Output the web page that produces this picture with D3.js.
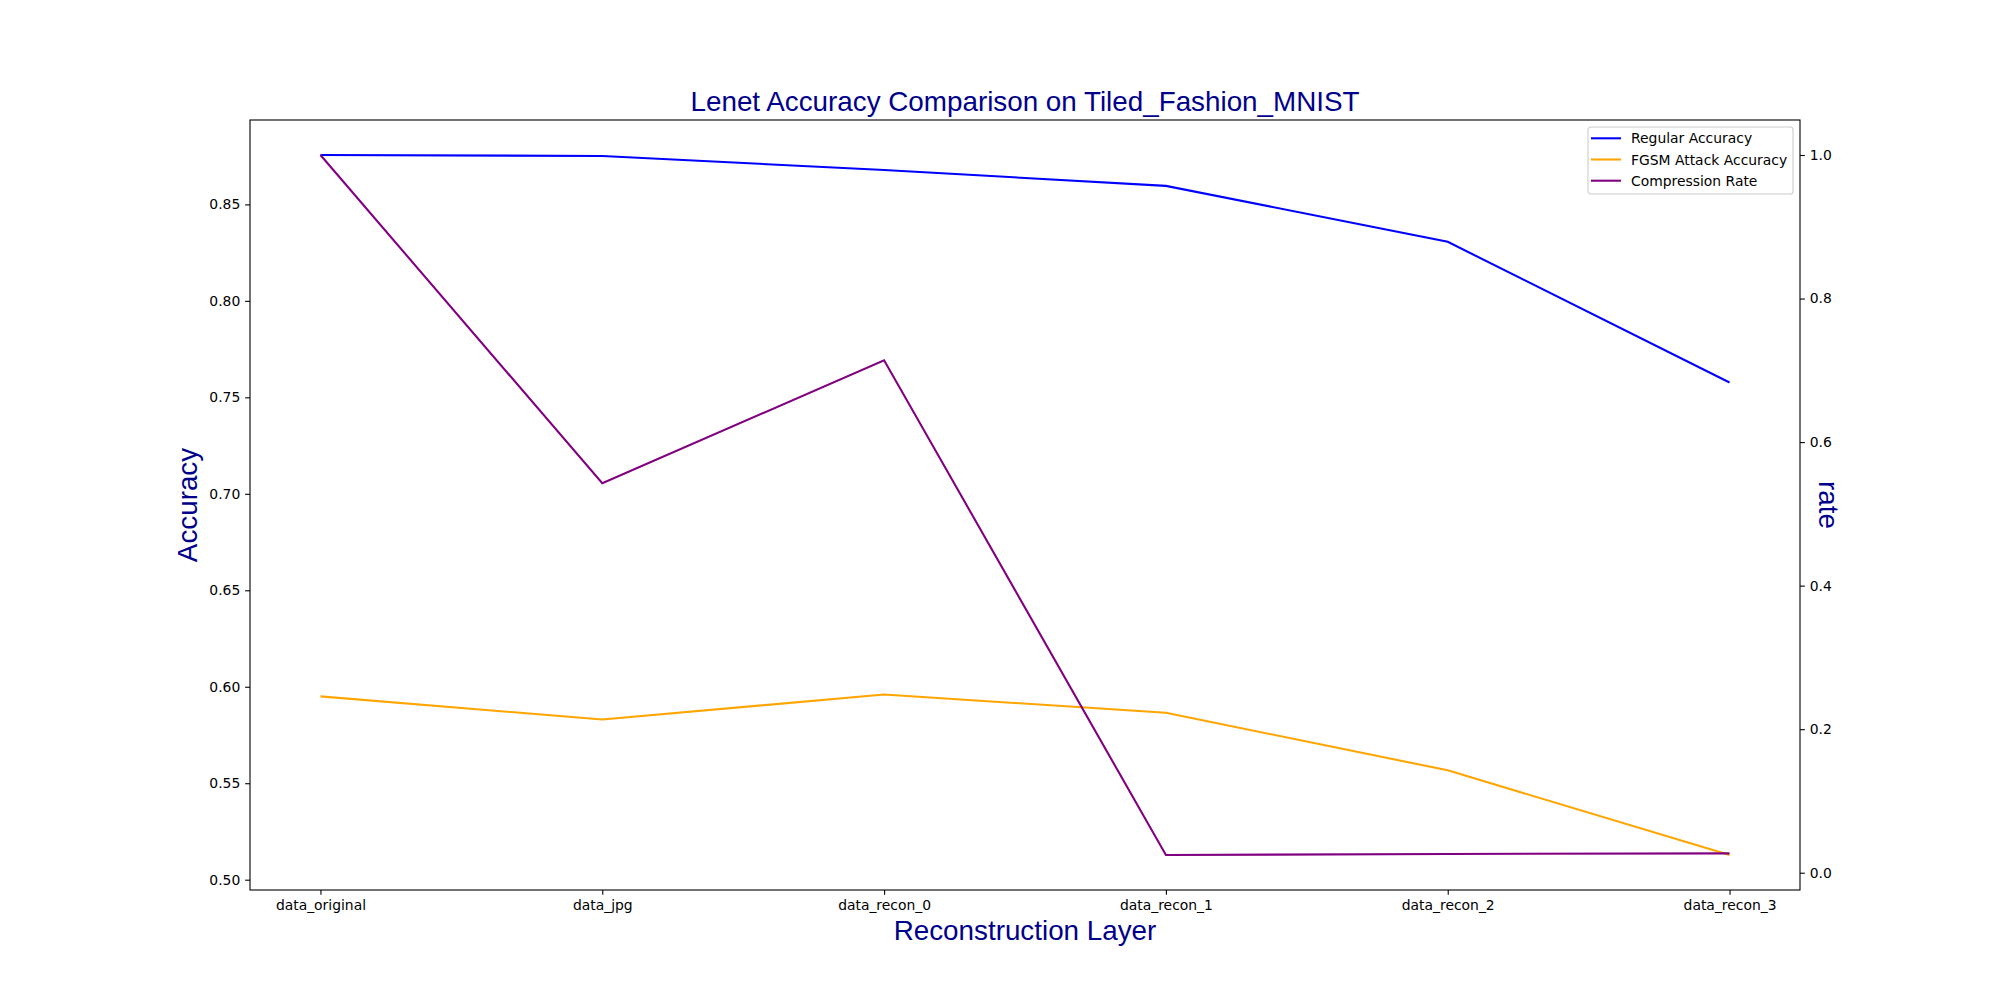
<!DOCTYPE html>
<html>
<head>
<meta charset="utf-8">
<script src="https://cdn.jsdelivr.net/npm/d3@7"></script>
<style>
  body { margin: 0; background: #fff; }
  svg { display: block; }
  .tick text { font-family: "DejaVu Sans", sans-serif; font-size: 13.9px; fill: #000; }
  .domain { display: none; }
</style>
</head>
<body>
<svg id="chart" width="2000" height="1000"></svg>
<script>
const categories = ['data_original', 'data_jpg', 'data_recon_0', 'data_recon_1', 'data_recon_2', 'data_recon_3']
const regularAccuracy = [0.8756, 0.8751, 0.8678, 0.8596, 0.8306, 0.7577]
const fgsmAccuracy = [0.5950, 0.5830, 0.5960, 0.5865, 0.5567, 0.5128]
const compressionRate = [1.0, 0.5426, 0.7140, 0.0247, 0.0261, 0.0270]
const accuracyTicks = [0.50, 0.55, 0.60, 0.65, 0.70, 0.75, 0.80, 0.85]
const rateTicks = [0.0, 0.2, 0.4, 0.6, 0.8, 1.0]
const seriesNames = ['Regular Accuracy', 'FGSM Attack Accuracy', 'Compression Rate']
const seriesColors = ['blue', 'orange', 'purple']

const plotLeft = 250, plotRight = 1800, plotTop = 120, plotBottom = 890
const svg = d3.select('#chart')

// matplotlib style autoscale: 5% margin on both ends
function padded(values) {
    const [lo, hi] = d3.extent(values)
    const m = (hi - lo) * 0.05
    return [lo - m, hi + m]
}

const x = d3.scalePoint().domain(categories).range([plotLeft, plotRight]).padding(0.25)
const yAcc = d3.scaleLinear().domain(padded(regularAccuracy.concat(fgsmAccuracy))).range([plotBottom, plotTop])
const yRate = d3.scaleLinear().domain(padded(compressionRate)).range([plotBottom, plotTop])

svg.append('g')
    .attr('transform', `translate(0,${plotBottom})`)
    .call(d3.axisBottom(x).tickSize(4.86).tickPadding(4.86))
svg.append('g')
    .attr('transform', `translate(${plotLeft},0)`)
    .call(d3.axisLeft(yAcc).tickValues(accuracyTicks).tickFormat(d3.format('.2f')).tickSize(4.86).tickPadding(4.86))
svg.append('g')
    .attr('transform', `translate(${plotRight},0)`)
    .call(d3.axisRight(yRate).tickValues(rateTicks).tickFormat(d3.format('.1f')).tickSize(4.86).tickPadding(4.86))
svg.selectAll('.tick line').attr('stroke', '#000').attr('stroke-width', 1.1)

const line = (scale) => d3.line().x((d, i) => x(categories[i])).y(d => scale(d))

svg.append('path').datum(regularAccuracy)
    .attr('d', line(yAcc)).attr('fill', 'none').attr('stroke', 'blue').attr('stroke-width', 2.08)
svg.append('path').datum(fgsmAccuracy)
    .attr('d', line(yAcc)).attr('fill', 'none').attr('stroke', 'orange').attr('stroke-width', 2.08)
svg.append('path').datum(compressionRate)
    .attr('d', line(yRate)).attr('fill', 'none').attr('stroke', 'purple').attr('stroke-width', 2.08)

// frame
svg.append('rect')
    .attr('x', plotLeft).attr('y', plotTop).attr('width', plotRight - plotLeft).attr('height', plotBottom - plotTop)
    .attr('fill', 'none').attr('stroke', '#000').attr('stroke-width', 1.1)

// labels
svg.append('text')
    .attr('x', (plotLeft + plotRight) / 2).attr('y', 111)
    .attr('text-anchor', 'middle')
    .style('font-family', '"Liberation Sans", Arial, sans-serif').style('font-size', '27.8px')
    .attr('fill', 'darkblue')
    .text('Lenet Accuracy Comparison on Tiled_Fashion_MNIST')
svg.append('text')
    .attr('x', (plotLeft + plotRight) / 2).attr('y', 940)
    .attr('text-anchor', 'middle')
    .style('font-family', '"Liberation Sans", Arial, sans-serif').style('font-size', '27.8px')
    .attr('fill', 'darkblue')
    .text('Reconstruction Layer')
svg.append('text')
    .attr('transform', `translate(197,${(plotTop + plotBottom) / 2}) rotate(-90)`)
    .attr('text-anchor', 'middle')
    .style('font-family', '"Liberation Sans", Arial, sans-serif').style('font-size', '27.8px')
    .attr('fill', 'darkblue')
    .text('Accuracy')
svg.append('text')
    .attr('transform', `translate(1819,${(plotTop + plotBottom) / 2}) rotate(90)`)
    .attr('text-anchor', 'middle')
    .style('font-family', '"Liberation Sans", Arial, sans-serif').style('font-size', '27.8px')
    .attr('fill', 'darkblue')
    .text('rate')

// legend
const legend = svg.append('g').attr('transform', 'translate(1588,127)')
legend.append('rect')
    .attr('width', 205).attr('height', 67).attr('rx', 2.8)
    .attr('fill', 'rgba(255,255,255,0.8)').attr('stroke', '#cccccc').attr('stroke-width', 1.1)
seriesNames.forEach((name, i) => {
    const yy = 11.3 + i * 21.2
    legend.append('line')
        .attr('x1', 3).attr('x2', 33).attr('y1', yy).attr('y2', yy)
        .attr('stroke', seriesColors[i]).attr('stroke-width', 2.08)
    legend.append('text')
        .attr('x', 43).attr('y', yy).attr('dy', '0.36em')
        .style('font-family', '"DejaVu Sans", sans-serif').style('font-size', '13.9px')
        .attr('fill', '#000')
        .text(name)
})
</script>
</body>
</html>
